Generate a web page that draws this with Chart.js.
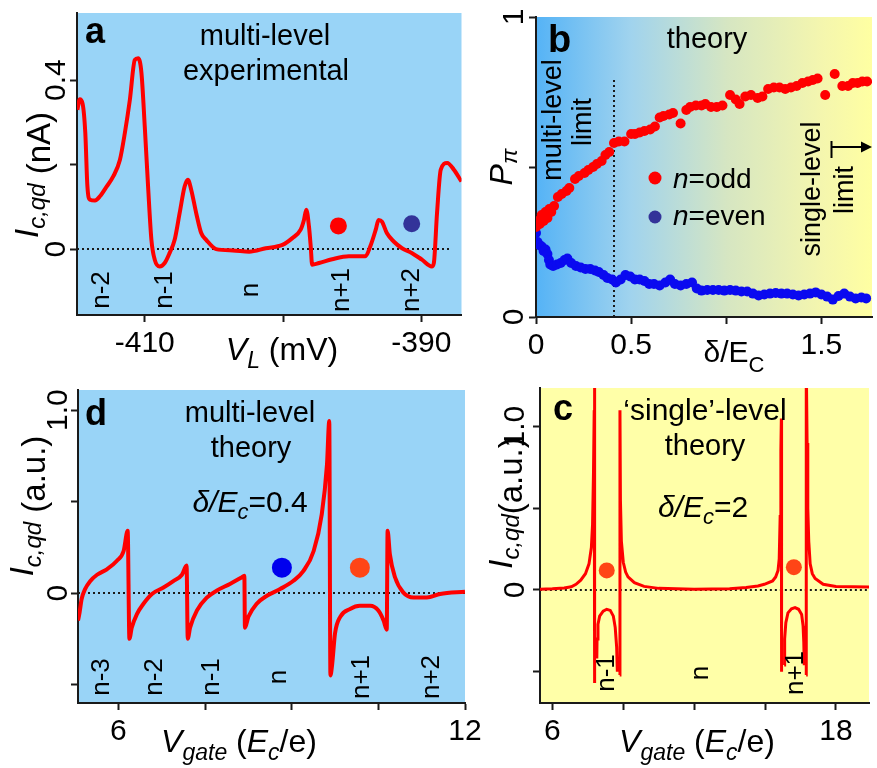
<!DOCTYPE html>
<html>
<head>
<meta charset="utf-8">
<script src="https://cdn.jsdelivr.net/npm/chart.js@4.4.1/dist/chart.umd.min.js"></script>
<style>
  body { margin: 0; background: #fff; }
  #fig { position: relative; width: 877px; height: 768px; overflow: hidden; background: #fff; }
  #fig canvas { position: absolute; }
</style>
</head>
<body>
<div id="fig">
  <canvas id="pa" width="470" height="380" style="left:0;top:0"></canvas>
  <canvas id="pb" width="407" height="380" style="left:470px;top:0"></canvas>
  <canvas id="pd" width="500" height="388" style="left:0;top:380px"></canvas>
  <canvas id="pc" width="407" height="388" style="left:470px;top:380px"></canvas>
</div>
<script>
// ---- panel a: measured current vs V_L (mV) ----
const aX = [-414.87, -414.7, -414.5, -414.3, -414.15, -413.96, -413.6, -413.24, -412.76, -412.28, -411.8, -411.44,
  -411.08, -410.72, -410.48, -410.24, -410.0, -409.76, -409.52, -409.28, -408.92, -408.56, -408.2, -407.84, -407.48,
  -407.12, -406.88, -406.64, -406.28, -405.92, -405.56, -404.84, -403.64, -402.45, -401.25, -400.05, -399.33, -398.73,
  -398.49, -398.32, -398.13, -398.0, -397.9, -397.4, -396.45, -395.25, -394.05, -393.7, -393.3, -393.1, -392.85,
  -392.5, -392.0, -391.4, -390.7, -389.96, -389.25, -389.1, -388.87, -388.6, -388.13, -387.65, -387.1];
const aY = [0.33, 0.355, 0.345, 0.275, 0.15, 0.117, 0.115, 0.125, 0.148, 0.172, 0.211, 0.275,
  0.353, 0.448, 0.452, 0.417, 0.29, 0.148, 0.022, -0.025, -0.041, -0.033, -0.009, 0.022, 0.085,
  0.148, 0.164, 0.14, 0.085, 0.038, 0.022, 0.0, -0.003, -0.006, 0.002, 0.01, 0.026, 0.046,
  0.069, 0.093, 0.054, 0.006, -0.037, -0.033, -0.024, -0.017, -0.017, 0.006, 0.046, 0.069, 0.065,
  0.038, 0.018, 0.002, -0.009, -0.025, -0.041, -0.033, 0.085, 0.188, 0.204, 0.188, 0.16];
const aDotX = [-396.0, -390.7];
const aDotY = [0.055, 0.06];
const aZeroX = [-414.9, -387.9];
const aLevels = ['n-2', 'n-1', 'n', 'n+1', 'n+2'];
const aLevelX = [-413.1, -408.56, -402.3, -395.75, -390.7];
const aTicksX = [-410, -400, -390];
const aTickLabelsX = ['-410', '', '-390'];
const aTicksY = [0, 0.2, 0.4];
const aTickLabelsY = ['0', '', '0.4'];

// ---- panel b: P_pi vs delta/E_c ----
const bOddX = [0, 0.01, 0.02, 0.03, 0.04, 0.05, 0.06, 0.07, 0.08, 0.095, 0.115, 0.135, 0.16, 0.175, 0.205, 0.225,
  0.255, 0.275, 0.3, 0.32, 0.345, 0.365, 0.385, 0.41, 0.435, 0.465, 0.5, 0.52, 0.545, 0.57, 0.6, 0.625, 0.65, 0.67,
  0.7, 0.72, 0.76, 0.79, 0.81, 0.84, 0.87, 0.89, 0.92, 0.95, 0.98, 1.02, 1.05, 1.07, 1.1, 1.13, 1.165, 1.19, 1.22,
  1.25, 1.28, 1.31, 1.34, 1.37, 1.4, 1.43, 1.455, 1.48, 1.52, 1.57, 1.61, 1.64, 1.665, 1.69, 1.715, 1.74];
const bOddY = [0.30, 0.32, 0.31, 0.34, 0.32, 0.35, 0.33, 0.36, 0.35, 0.37, 0.40, 0.41, 0.42, 0.43, 0.46, 0.47,
  0.48, 0.49, 0.50, 0.51, 0.52, 0.54, 0.55, 0.58, 0.585, 0.585, 0.61, 0.61, 0.615, 0.62, 0.625, 0.635, 0.665, 0.67,
  0.675, 0.68, 0.645, 0.69, 0.70, 0.705, 0.705, 0.71, 0.70, 0.70, 0.705, 0.74, 0.725, 0.71, 0.735, 0.74, 0.73, 0.735, 0.76,
  0.765, 0.765, 0.76, 0.765, 0.77, 0.78, 0.785, 0.79, 0.795, 0.74, 0.81, 0.77, 0.77, 0.78, 0.78, 0.785, 0.785];
const bEvenX = [0, 0.008, 0.018, 0.03, 0.04, 0.05, 0.06, 0.068, 0.075, 0.09, 0.11, 0.13, 0.15, 0.165, 0.185, 0.21,
  0.235, 0.26, 0.285, 0.31, 0.33, 0.355, 0.375, 0.4, 0.42, 0.445, 0.47, 0.495, 0.52, 0.545, 0.57, 0.595, 0.62, 0.65,
  0.68, 0.705, 0.73, 0.76, 0.79, 0.82, 0.845, 0.87, 0.9, 0.93, 0.96, 0.99, 1.02, 1.05, 1.08, 1.11, 1.14, 1.17, 1.2,
  1.23, 1.26, 1.29, 1.32, 1.35, 1.38, 1.41, 1.44, 1.47, 1.5, 1.53, 1.56, 1.59, 1.62, 1.65, 1.68, 1.71, 1.735];
const bEvenY = [0.28, 0.25, 0.24, 0.235, 0.22, 0.225, 0.21, 0.19, 0.175, 0.17, 0.175, 0.18, 0.19, 0.195, 0.18, 0.17,
  0.165, 0.16, 0.16, 0.155, 0.15, 0.14, 0.13, 0.125, 0.115, 0.125, 0.14, 0.135, 0.125, 0.125, 0.12, 0.11, 0.11, 0.105,
  0.115, 0.125, 0.11, 0.105, 0.11, 0.115, 0.095, 0.088, 0.09, 0.09, 0.09, 0.088, 0.09, 0.088, 0.085, 0.085, 0.078, 0.072, 0.075,
  0.078, 0.08, 0.078, 0.078, 0.075, 0.072, 0.075, 0.078, 0.082, 0.075, 0.068, 0.058, 0.07, 0.078, 0.068, 0.062, 0.065, 0.062];
const bLimitX = [0.41, 0.41];
const bLimitY = [0, 0.8];
const bTicksX = [0, 0.5, 1, 1.5];
const bTickLabelsX = ['0', '0.5', '', '1.5'];
const bTicksY = [0, 0.5, 1];
const bTickLabelsY = ['0', '', '1'];

// ---- panel d: multi-level theory ----
const dX = [5.30, 5.32, 5.365, 5.42, 5.51, 5.63, 5.80, 5.97, 6.09, 6.16, 6.19, 6.23, 6.32, 6.43, 6.58, 6.78, 6.95,
  7.10, 7.18, 7.20, 7.24, 7.36, 7.53, 7.70, 7.93, 8.13, 8.18, 8.19, 8.25, 8.39, 8.57, 8.80, 9.03, 9.20, 9.38, 9.52,
  9.61, 9.65, 9.67, 9.70, 9.75, 9.84, 10.01, 10.18, 10.36, 10.50, 10.59, 10.645, 10.66, 10.70, 10.79, 10.93, 11.11,
  11.34, 11.57, 12.0];
const dY = [-0.15, -0.12, -0.03, 0.02, 0.065, 0.10, 0.13, 0.175, 0.23, 0.34, -0.25, -0.19, -0.115, -0.06, -0.005, 0.03, 0.065,
  0.10, 0.15, -0.25, -0.19, -0.095, -0.025, 0.013, 0.05, 0.085, 0.095, -0.19, -0.13, -0.06, -0.015, 0.022, 0.067, 0.12, 0.23, 0.43,
  0.70, 0.94, -0.45, -0.39, -0.22, -0.13, -0.087, -0.07, -0.07, -0.096, -0.15, -0.20, 0.34, 0.21, 0.085, 0.004, -0.024,
  -0.024, -0.005, 0.007];
const dDotX = [8.83, 10.18];
const dDotY = [0.139, 0.139];
const dZeroX = [5.3, 12];
const dLevels = ['n-3', 'n-2', 'n-1', 'n', 'n+1', 'n+2'];
const dLevelX = [5.71, 6.635, 7.615, 8.77, 10.21, 11.42];
const dTicksX = [6, 7.5, 9, 10.5, 12];
const dTickLabelsX = ['6', '', '', '', '12'];
const dTicksY = [-0.5, 0, 0.5, 1];
const dTickLabelsY = ['', '0', '', '1.0'];

// ---- panel c: 'single'-level theory (null = break in the trace) ----
const cX = [5.47, 6.0, 6.5, 6.8, 7.0, 7.2, 7.4, 7.55, 7.65, 7.70, 7.74, 7.77, 7.785, 7.79,
  7.83,
  7.88, 7.89, 7.93, 8.0, 8.15, 8.30, 8.45, 8.58, 8.66, 8.72, 8.75,
  8.80,
  8.85, 8.86, 8.88, 8.92, 9.0, 9.1, 9.2, 9.47, 9.88, 10.5, 12.0, 13.5, 14.2, 14.7, 14.97, 15.32, 15.45, 15.55, 15.60,
  15.64, 15.67, 15.69, 15.70,
  15.75,
  15.81, 15.83, 15.88, 15.97, 16.12, 16.27, 16.42, 16.55, 16.61, 16.64, 16.66,
  16.70,
  16.74, 16.745, 16.78, 16.81, 16.85, 16.91, 17.0, 17.12, 17.46, 18.0, 19.4];
const cY = [0.005, 0.007, 0.012, 0.02, 0.035, 0.06, 0.10, 0.16, 0.26, 0.40, 0.72, 1.10, 1.40, -0.57,
  null,
  -0.42, -0.30, -0.21, -0.16, -0.13, -0.118, -0.125, -0.16, -0.23, -0.35, -0.50,
  null,
  -0.52, 1.10, 0.55, 0.30, 0.17, 0.11, 0.08, 0.045, 0.022, 0.01, 0.005, 0.008, 0.015, 0.025, 0.035, 0.055, 0.08, 0.12, 0.19,
  0.45, 0.85, 1.05, -0.50,
  null,
  -0.46, -0.30, -0.20, -0.14, -0.115, -0.108, -0.118, -0.15, -0.22, -0.32, -0.46,
  null,
  -0.52, 1.40, 0.90, 0.50, 0.30, 0.16, 0.10, 0.07, 0.035, 0.022, 0.018];
const cDotX = [8.30, 16.22];
const cDotY = [0.12, 0.14];
const cZeroX = [5.47, 19.4];
const cLevels = ['n-1', 'n', 'n+1'];
const cLevelX = [8.30, 12.29, 16.29];
const cTicksX = [6, 9, 12, 15, 18];
const cTickLabelsX = ['6', '', '', '', '18'];
const cTicksY = [-0.5, 0, 0.5, 1];
const cTickLabelsY = ['', '0', '', '1.0'];

const FONT = '"Liberation Sans", Arial, Helvetica, sans-serif';
const INK = '#1a1a1a';
const RED = '#ff0000';
const NAVY = '#333399';

const pts = (xs, ys) => xs.map((x, i) => ({ x: x, y: ys[i] }));

// text made of pieces: [text, flags ('i' italic, 'b' bold, 's' small), dy]
function rich(ctx, parts, x, y, o) {
  o = Object.assign({ size: 29, angle: 0, align: 'center', base: 'alphabetic' }, o);
  ctx.save();
  ctx.translate(x, y);
  if (o.angle) ctx.rotate(o.angle * Math.PI / 180);
  ctx.textBaseline = o.base;
  ctx.textAlign = 'left';
  ctx.fillStyle = '#000';
  const fontOf = f => (f.includes('i') ? 'italic ' : '') + (f.includes('b') ? 'bold ' : '') +
    Math.round(f.includes('s') ? o.size * 0.72 : o.size) + 'px ' + FONT;
  let total = 0;
  const widths = parts.map(p => {
    ctx.font = fontOf(p[1] || '');
    const w = ctx.measureText(p[0]).width;
    total += w;
    return w;
  });
  let cx = o.align === 'center' ? -total / 2 : 0;
  parts.forEach((p, i) => {
    ctx.font = fontOf(p[1] || '');
    ctx.fillText(p[0], cx, p[2] || 0);
    cx += widths[i];
  });
  ctx.restore();
}

function levelLabels(chart, names, xs, off) {
  names.forEach((t, i) => {
    rich(chart.ctx, [[t]], chart.scales.x.getPixelForValue(xs[i]), chart.chartArea.bottom - off,
      { size: 26, angle: -90, base: 'middle' });
  });
}

function axis(o) {
  return {
    type: 'linear',
    min: o.min,
    max: o.max,
    afterBuildTicks: s => { s.ticks = o.ticks.map(v => ({ value: v })); },
    afterFit: s => {
      if (s.isHorizontal()) s.height = o.size; else s.width = o.size;
      s.paddingLeft = s.paddingRight = s.paddingTop = s.paddingBottom = 0;
    },
    grid: { drawOnChartArea: false, drawTicks: true, tickLength: 7, tickWidth: 2, tickColor: INK },
    border: { display: true, color: INK, width: 2 },
    ticks: {
      autoSkip: false,
      color: '#000',
      font: { family: FONT, size: 30 },
      padding: o.pad,
      minRotation: o.rot || 0,
      maxRotation: o.rot || 0,
      crossAlign: o.rot ? 'center' : 'near',
      callback: (v, i) => o.labels[i]
    }
  };
}

function deco(fill, draw) {
  return {
    id: 'deco',
    beforeDraw(chart) {
      const { ctx, chartArea: a } = chart;
      ctx.save();
      ctx.fillStyle = typeof fill === 'function' ? fill(ctx, a) : fill;
      ctx.fillRect(a.left, a.top, a.right - a.left, a.bottom - a.top);
      ctx.restore();
    },
    afterDraw(chart) { draw(chart.ctx, chart); }
  };
}

function curve(data, width, smooth) {
  return { data: data, borderColor: RED, borderWidth: width, pointRadius: 0, showLine: true,
    tension: 0, cubicInterpolationMode: smooth ? 'monotone' : 'default', spanGaps: false };
}
function dots(data, colors, r) {
  return { data: data, showLine: false, pointRadius: r, pointHoverRadius: r,
    pointBackgroundColor: colors, pointBorderWidth: 0, borderColor: 'transparent' };
}
function dotted(data) {
  return { data: data, borderColor: INK, borderWidth: 2, borderDash: [2, 3], pointRadius: 0, showLine: true };
}

function makeChart(id, datasets, scales, padding, plugin) {
  return new Chart(document.getElementById(id), {
    type: 'line',
    data: { datasets: datasets },
    options: {
      responsive: false,
      animation: false,
      events: [],
      layout: { padding: padding },
      plugins: { legend: { display: false }, tooltip: { enabled: false } },
      scales: scales
    },
    plugins: [plugin]
  });
}

const SKY = '#99d4f7';
const PALE = '#ffffa8';

// panel a
makeChart('pa', [
  curve(pts(aX, aY), 4, true),
  dots(pts(aDotX, aDotY), [RED, NAVY], 8.5),
  dotted(pts(aZeroX, [0, 0]))
], {
  x: axis({ min: -414.9, max: -387.1, ticks: aTicksX, labels: aTickLabelsX, size: 65, pad: 4 }),
  y: axis({ min: -0.156, max: 0.559, ticks: aTicksY, labels: aTickLabelsY, size: 77, pad: -8, rot: 90 })
}, { top: 13, right: 7, left: 0, bottom: 0 }, deco(SKY, (ctx, chart) => {
  rich(ctx, [['a', 'b']], 85, 43, { size: 36, align: 'left' });
  rich(ctx, [['multi-level']], 265, 45);
  rich(ctx, [['experimental']], 266, 80);
  rich(ctx, [['I', 'i', -12], ['c,qd', 'is', -5], [' (nA)', '', 0]], 50, 175, { size: 33, angle: -90 });
  rich(ctx, [['V', 'i'], ['L', 'is', 8], [' (mV)', '']], 282, 360, { size: 32 });
  levelLabels(chart, aLevels, aLevelX, 25);
}));

// panel b
makeChart('pb', [
  dots(pts(bOddX, bOddY), RED, 5),
  dots(pts(bEvenX, bEvenY), '#0a0af0', 5),
  dotted(pts(bLimitX, bLimitY))
], {
  x: axis({ min: 0, max: 1.766, ticks: bTicksX, labels: bTickLabelsX, size: 63, pad: 4 }),
  y: axis({ min: 0, max: 1, ticks: bTicksY, labels: bTickLabelsY, size: 66, pad: 6, rot: 90 })
}, { top: 17, right: 2, left: 0, bottom: 0 }, deco((ctx, a) => {
  const g = ctx.createLinearGradient(a.left, 0, a.right, 0);
  g.addColorStop(0, '#55b3f6');
  g.addColorStop(0.28, '#a0d3ee');
  g.addColorStop(0.57, '#d6e6c2');
  g.addColorStop(0.85, '#f4f6ae');
  g.addColorStop(1, '#ffffa2');
  return g;
}, (ctx, chart) => {
  rich(ctx, [['b', 'b']], 78, 52, { size: 38, align: 'left' });
  rich(ctx, [['theory']], 237, 48);
  rich(ctx, [['multi-level']], 83.5, 120, { size: 27, angle: -90, base: 'middle' });
  rich(ctx, [['limit']], 114, 122, { size: 27, angle: -90, base: 'middle' });
  rich(ctx, [['single-level']], 343, 189, { size: 27, angle: -90, base: 'middle' });
  rich(ctx, [['limit']], 376, 190, { size: 27, angle: -90, base: 'middle' });
  // arrow towards the single-level limit
  ctx.save();
  ctx.strokeStyle = '#000';
  ctx.fillStyle = '#000';
  ctx.lineWidth = 2;
  ctx.beginPath();
  ctx.moveTo(361.5, 141); ctx.lineTo(361.5, 158);
  ctx.moveTo(362, 147); ctx.lineTo(393, 147);
  ctx.stroke();
  ctx.beginPath();
  ctx.moveTo(402, 147); ctx.lineTo(391, 141.5); ctx.lineTo(391, 152.5);
  ctx.closePath(); ctx.fill();
  // legend
  ctx.fillStyle = RED;
  ctx.beginPath(); ctx.arc(185, 178, 6.5, 0, Math.PI * 2); ctx.fill();
  ctx.fillStyle = NAVY;
  ctx.beginPath(); ctx.arc(185, 217, 6.5, 0, Math.PI * 2); ctx.fill();
  ctx.restore();
  rich(ctx, [['n', 'i'], ['=odd', '']], 203, 188, { size: 28, align: 'left' });
  rich(ctx, [['n', 'i'], ['=even', '']], 203, 225, { size: 28, align: 'left' });
  rich(ctx, [['P', 'i', 0], ['\u03c0', 'is', 5]], 42, 167, { size: 32, angle: -90 });
  rich(ctx, [['\u03b4/E', ''], ['C', 's', 10]], 264, 362, { size: 30 });
}));

// panel d
makeChart('pd', [
  curve(pts(dX, dY), 4, true),
  dots(pts(dDotX, dDotY), ['#0000ee', '#ff4516'], 10),
  dotted(pts(dZeroX, [0, 0]))
], {
  x: axis({ min: 5.3, max: 12, ticks: dTicksX, labels: dTickLabelsX, size: 65, pad: 4 }),
  y: axis({ min: -0.601, max: 1.11, ticks: dTicksY, labels: dTickLabelsY, size: 78, pad: -9, rot: 90 })
}, { top: 8, right: 35, left: 0, bottom: 0 }, deco(SKY, (ctx, chart) => {
  rich(ctx, [['d', 'b']], 85, 45, { size: 36, align: 'left' });
  rich(ctx, [['multi-level']], 250, 42);
  rich(ctx, [['theory']], 251, 77);
  rich(ctx, [['\u03b4/E', 'i'], ['c', 'is', 7], ['=0.4', '']], 250, 132, { size: 30 });
  rich(ctx, [['I', 'i', -12], ['c,qd', 'is', -4], [' (a.u.)', '', 0]], 45, 126, { size: 33, angle: -90 });
  rich(ctx, [['V', 'i'], ['gate', 'is', 8], [' (', ''], ['E', 'i'], ['c', 'is', 8], ['/e)', '']], 239, 372, { size: 32 });
  levelLabels(chart, dLevels, dLevelX, 26);
}));

// panel c
makeChart('pc', [
  curve(pts(cX, cY), 3, false),
  dots(pts(cDotX, cDotY), '#ff4516', 8),
  dotted(pts(cZeroX, [0, 0]))
], {
  x: axis({ min: 5.476, max: 19.4, ticks: cTicksX, labels: cTickLabelsX, size: 65, pad: 4 }),
  y: axis({ min: -0.692, max: 1.237, ticks: cTicksY, labels: cTickLabelsY, size: 70, pad: -4, rot: 90 })
}, { top: 8, right: 0, left: 0, bottom: 0 }, deco(PALE, (ctx, chart) => {
  rich(ctx, [['c', 'b']], 83, 40, { size: 36, align: 'left' });
  rich(ctx, [['\u2018single\u2019-level']], 235, 40, { size: 30 });
  rich(ctx, [['theory']], 235, 75);
  rich(ctx, [['\u03b4/E', 'i'], ['c', 'is', 7], ['=2', '']], 233, 137, { size: 30 });
  rich(ctx, [['I', 'i', -10], ['c,qd', 'is', -3], ['(a.u.)', '', 0]], 52, 123, { size: 33, angle: -90 });
  rich(ctx, [['V', 'i'], ['gate', 'is', 8], [' (', ''], ['E', 'i'], ['c', 'is', 8], ['/e)', '']], 227, 372, { size: 32 });
  levelLabels(chart, cLevels, cLevelX, 30);
}));
</script>
</body>
</html>
